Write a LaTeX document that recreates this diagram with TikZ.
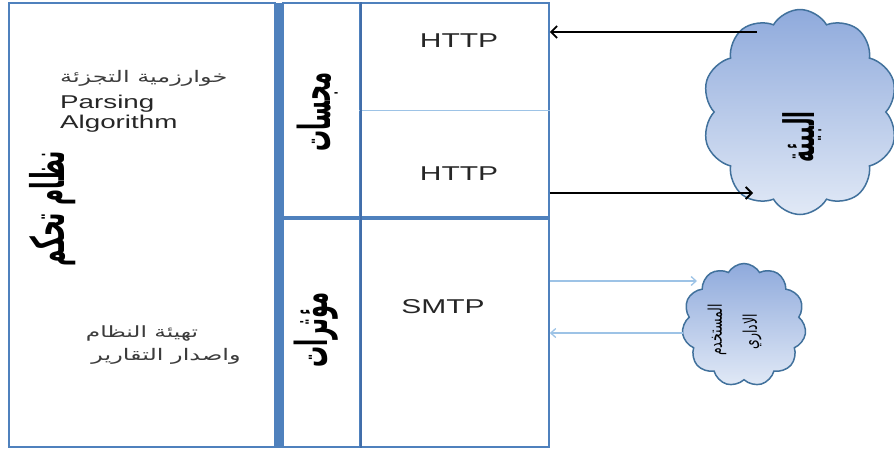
\documentclass[tikz,border=0pt]{standalone}
\usepackage{fontspec}
\setmainfont{Liberation Sans}
\newfontfamily\arabicfont[Script=Arabic]{DejaVu Sans}
\TeXXeTstate=1
\usetikzlibrary{shapes.symbols,arrows.meta}
\definecolor{frame}{RGB}{79,129,189}
\definecolor{framedark}{RGB}{65,110,170}
\definecolor{lightline}{RGB}{157,195,230}
\definecolor{cloudtop}{RGB}{143,170,220}
\definecolor{cloudbot}{RGB}{225,233,246}
\definecolor{cloudedge}{RGB}{65,113,156}
\definecolor{txtgray}{RGB}{60,60,60}
\newcommand{\stretchx}[1]{\scalebox{1.5}[1]{#1}}
\newcommand{\stretchy}[1]{\scalebox{1}[1.5]{#1}}
\newcommand{\stretchyy}[1]{\scalebox{1}[2.1]{#1}}
\newcommand{\ar}[1]{{\arabicfont\beginR #1\endR}}
\tikzset{
  box/.style={draw=frame, line width=1.6pt, minimum width=#1, inner sep=0pt},
  lat/.style={inner sep=0pt, text=black!85},
  arsm/.style={inner sep=0pt, text=txtgray},
  head/.style={inner sep=0pt, rotate=90, text=black},
  cloudy/.style={cloud, cloud puffs=10, cloud puff arc=120, draw=cloudedge, line width=1.5pt,
     top color=cloudtop, bottom color=cloudbot, inner sep=0pt, aspect=1},
  blk/.style={draw=black, line width=2.2pt, -{Straight Barb[length=6pt,width=12pt,line width=1.8pt]}},
  lb/.style={draw=lightline, line width=1.3pt, -{Straight Barb[length=5pt,width=9pt]}}
}
\begin{document}
\begin{tikzpicture}[x=1pt,y=-1pt]
\useasboundingbox (0,0) rectangle (894,450);
% main boxes
\node[box=266pt, minimum height=444pt] (ctrl) at (142,225) {};
\node[fill=frame, inner sep=0pt, minimum width=6pt, minimum height=445pt] (bar) at (279,225) {};
\node[box=77pt, minimum height=214pt] (sens) at (321.5,110) {};
\node[box=77pt, minimum height=230pt] (act) at (321.5,332) {};
\node[box=189pt, minimum height=214pt] (upper) at (454.5,110) {};
\node[box=189pt, minimum height=230pt] (smtpbox) at (454.5,332) {};
\draw[lightline, line width=1pt] (upper.west) -- (upper.east);
\draw[frame, line width=4pt] (sens.south west) -- (upper.south east);
\draw[framedark, line width=1.8pt] (sens.north east) -- (act.south east);

% left box texts
\node[arsm, anchor=base west] (alg) at (60,82) {\stretchx{\fontsize{16}{18}\selectfont\ar{خوارزمية التجزئة}}};
\node[lat, anchor=base west] (pars) at (60,108) {\stretchx{\fontsize{18.5}{20}\selectfont Parsing}};
\node[lat, anchor=base west] (algo) at (60,128) {\stretchx{\fontsize{18.5}{20}\selectfont Algorithm}};
\node[arsm] (init) at (142,333) {\stretchx{\fontsize{15.5}{17}\selectfont\ar{تهيئة النظام}}};
\node[arsm] (rep) at (166,356) {\stretchx{\fontsize{16}{18}\selectfont\ar{واصدار التقارير}}};
\node[head] (ctrlt) at (53,209) {\stretchyy{\fontsize{22}{26}\selectfont\bfseries\ar{نظام تحكم}}};

% sensors / actuators
\node[head] (senst) at (318,112) {\stretchyy{\fontsize{21}{25}\selectfont\bfseries\ar{مجسات}}};
\node[head] (actt) at (316,330) {\stretchyy{\fontsize{21}{25}\selectfont\bfseries\ar{مؤثرات}}};

% protocol texts
\node[lat] (h1) at (459,41) {\stretchx{\fontsize{20}{22}\selectfont HTTP}};
\node[lat] (h2) at (459,174) {\stretchx{\fontsize{20}{22}\selectfont HTTP}};
\node[lat] (sm) at (443,307) {\stretchx{\fontsize{20}{22}\selectfont SMTP}};

% clouds
\node[cloudy, minimum width=196pt, minimum height=205pt] (env) at (800,112) {};
\node[head] (envt) at (802,137) {\stretchyy{\fontsize{20}{24}\selectfont\bfseries\ar{البيئة}}};
\node[cloudy, cloud puffs=11, minimum width=124pt, minimum height=123pt] (user) at (744,325) {};
\node[head] (usert1) at (717,330) {\stretchy{\fontsize{12.5}{14}\selectfont\ar{المستخدم}}};
\node[head] (usert2) at (752,332) {\stretchy{\fontsize{12.5}{14}\selectfont\ar{الاداري}}};

% connectors
\coordinate (e1) at (757,32);
\coordinate (e2) at (753,193);
\coordinate (u1) at (697,281);
\coordinate (u2) at (683,333);
\draw[blk] (e1) -- (upper.east |- e1);
\draw[blk] (upper.east |- e2) -- (e2);
\draw[lb] (smtpbox.east |- u1) -- (u1);
\draw[lb] (u2) -- (smtpbox.east |- u2);
\end{tikzpicture}
\end{document}
